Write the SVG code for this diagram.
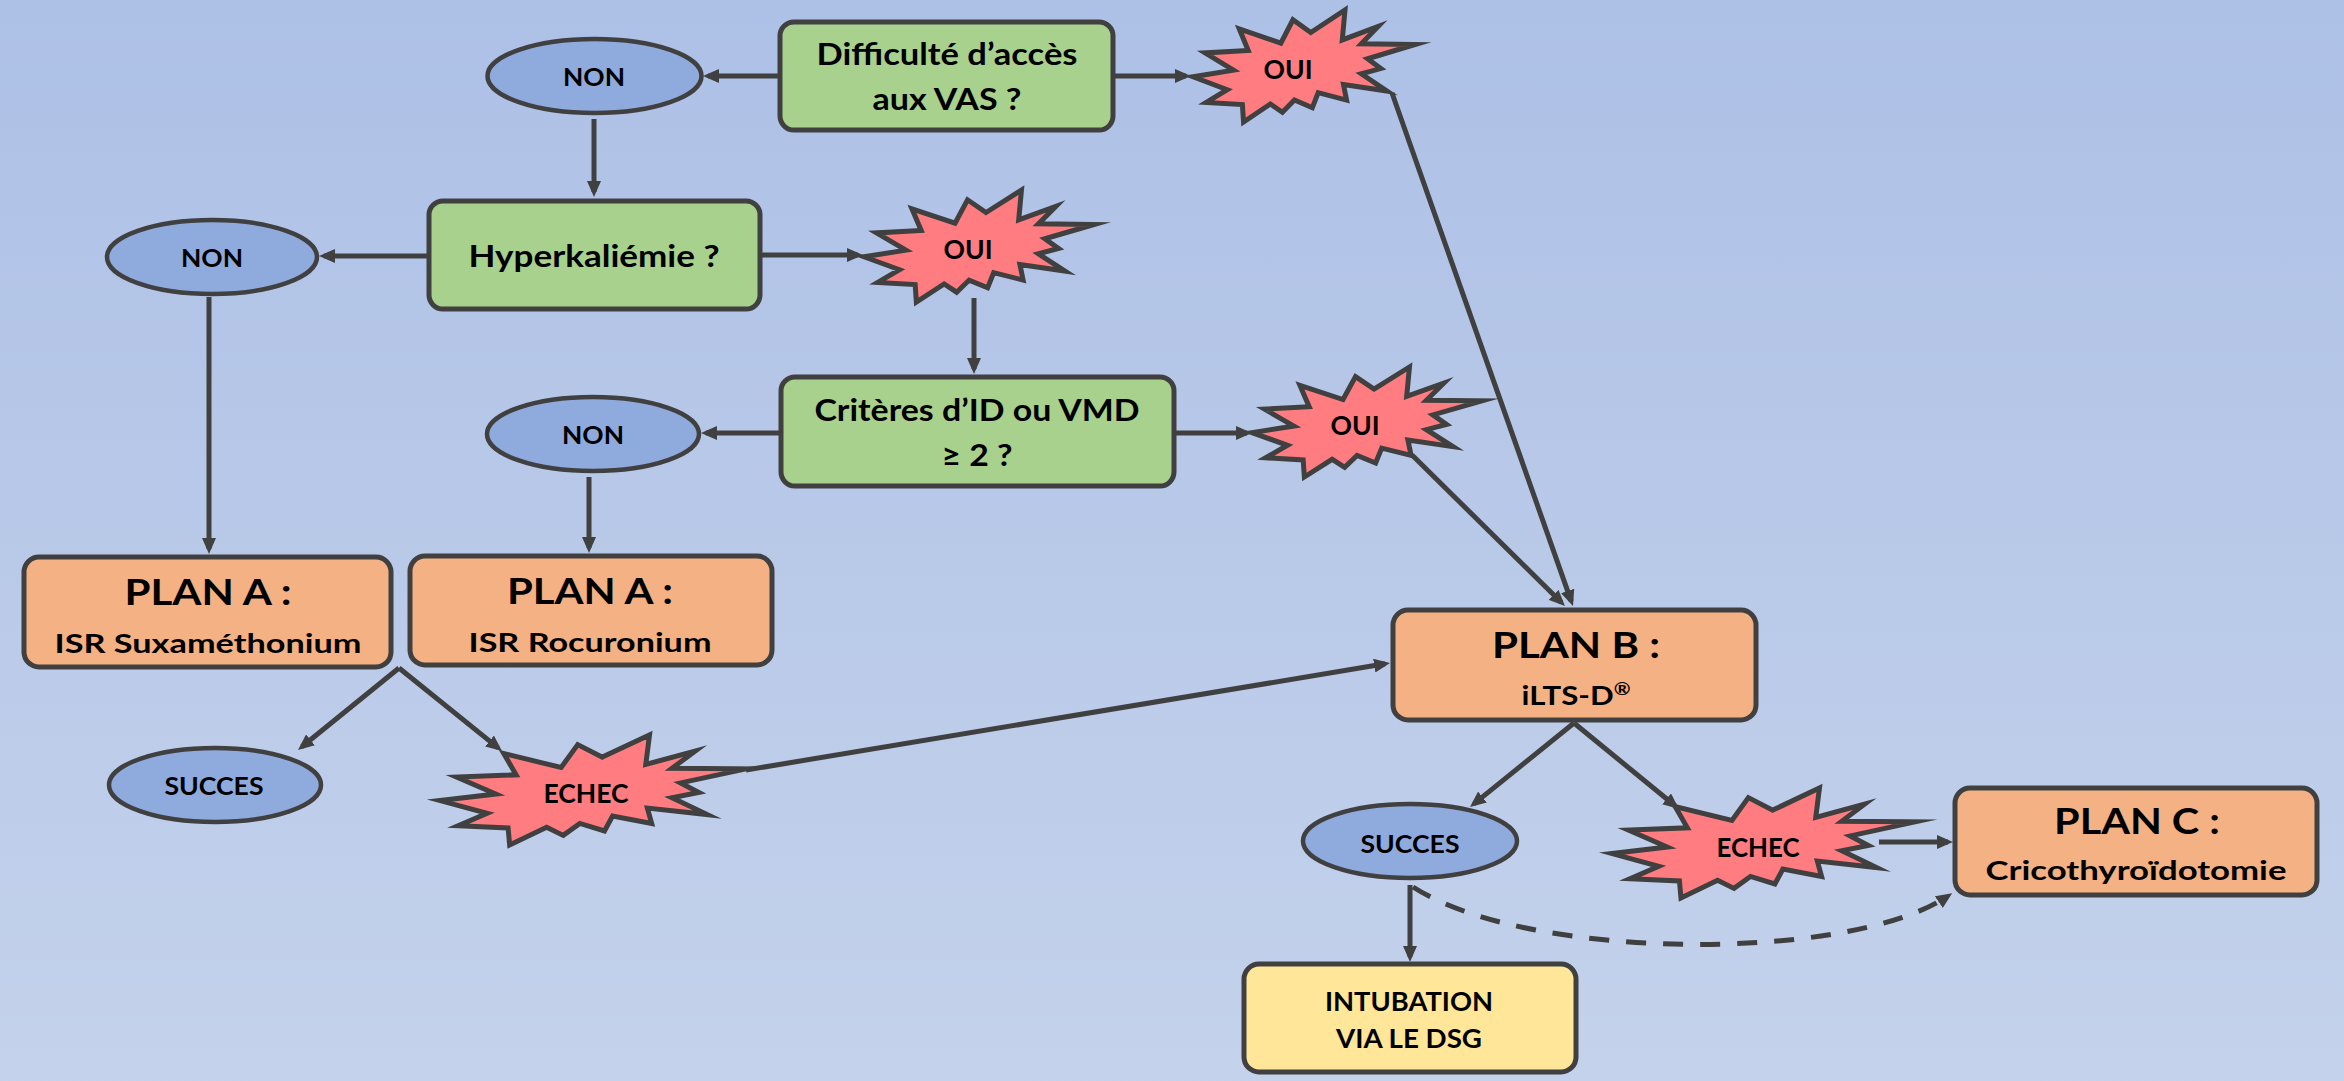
<svg xmlns="http://www.w3.org/2000/svg" xmlns:xlink="http://www.w3.org/1999/xlink" width="2344" height="1081" viewBox="0 0 2344 1081">
<style>
.box{stroke:#404040;stroke-width:5}
.q{fill:#a9d18e}
.p{fill:#f4b183}
.y{fill:#ffe699}
.ell{fill:#8faadc;stroke:#404040;stroke-width:4.5}
.star{fill:#ff7c80;stroke:#404040;stroke-width:5;stroke-linejoin:miter;stroke-miterlimit:10}
text{font-family:Lato,"Open Sans","Liberation Sans",sans-serif;font-weight:700;fill:#000;text-anchor:middle}
.t30{font-size:30px}
.t26{font-size:26px}
.t25{font-size:25px}
.t37{font-size:37px}
.ln{stroke:#404040;stroke-width:5;fill:none;marker-end:url(#arr)}
.dash{stroke-dasharray:20 17}
</style>
<defs>
<linearGradient id="bg" x1="0" y1="0" x2="0" y2="1">
<stop offset="0" stop-color="#adc0e6"/>
<stop offset="1" stop-color="#c4d2eb"/>
</linearGradient>
<marker id="arr" markerUnits="userSpaceOnUse" markerWidth="16" markerHeight="14" refX="11" refY="7" orient="auto">
<path d="M0,0 L16,7 L0,14 Z" fill="#404040"/>
</marker>
<path id="seal" class="star" vector-effect="non-scaling-stroke" d="M530.6,201 L684.7,0 L672.5,267.5 L833.7,146.9 L758.3,302.4 L1000,307.6 L786.3,435.3 L845.8,522.7 L758.3,569.9 L873.9,723.7 L677.8,664.4 L691.8,804.2 L563.9,737.7 L537.6,872.3 L457,804.2 L402.8,912.6 L348.5,839.1 L227.6,1000 L222.5,844.4 L59.5,825.2 L154.2,711.6 L0,596.2 L182.2,536.7 L54.3,382.9 L248.7,361.9 L208.4,167.8 L395.8,295.5 L450.1,87.4 Z"/>
</defs>
<rect width="2344" height="1081" fill="url(#bg)"/>

<g id="connectors">
<path class="ln" d="M780,76 L708,76"/>
<path class="ln" d="M1114,76 L1186,76"/>
<path class="ln" d="M594,119 L594,192"/>
<path class="ln" d="M429,256 L324,256"/>
<path class="ln" d="M762,255 L858,255"/>
<path class="ln" d="M974,298 L974,369"/>
<path class="ln" d="M780,433 L706,433"/>
<path class="ln" d="M1176,433 L1247,433"/>
<path class="ln" d="M209,297 L209,549"/>
<path class="ln" d="M589,477 L589,548"/>
<path class="ln" d="M1392,93 L1571.3,601.3"/>
<path class="ln" d="M1412,455 L1561.4,602.5"/>
<path class="ln" d="M399,668 L301.9,746.8"/>
<path class="ln" d="M399,668 L498.1,747.9"/>
<path class="ln" d="M746,770 L1385.1,663.8"/>
<path class="ln" d="M1574,723 L1473.9,803.9"/>
<path class="ln" d="M1574,723 L1675.1,805.8"/>
<path class="ln" d="M1879,842 L1948,842"/>
<path class="ln" d="M1410,885 L1410,957"/>
<path class="ln dash" d="M1413,887 C1530,962 1850,962 1948,896"/>
</g>

<g id="n-difficulte">
<rect class="box q" x="780" y="22" width="333" height="108" rx="14"/>
<text class="t30" x="947" y="65" textLength="261" lengthAdjust="spacingAndGlyphs">Difficulté d’accès</text>
<text class="t30" x="947" y="110" textLength="149" lengthAdjust="spacingAndGlyphs">aux VAS ?</text>
</g>

<g id="n-non1">
<ellipse class="ell" cx="594.5" cy="76" rx="107" ry="37"/>
<text class="t25" x="594" y="86" textLength="62" lengthAdjust="spacingAndGlyphs">NON</text>
</g>

<g id="n-oui1">
<use xlink:href="#seal" transform="translate(1193,10) scale(0.222,0.112)"/>
<text class="t26" x="1288" y="79" textLength="49" lengthAdjust="spacingAndGlyphs">OUI</text>
</g>

<g id="n-hyper">
<rect class="box q" x="429" y="201" width="331" height="108" rx="14"/>
<text class="t30" x="594" y="267" textLength="251" lengthAdjust="spacingAndGlyphs">Hyperkaliémie ?</text>
</g>

<g id="n-non2">
<ellipse class="ell" cx="212" cy="257" rx="105" ry="37"/>
<text class="t25" x="212" y="267" textLength="62" lengthAdjust="spacingAndGlyphs">NON</text>
</g>

<g id="n-oui2">
<use xlink:href="#seal" transform="translate(864,190) scale(0.230,0.112)"/>
<text class="t26" x="968" y="259" textLength="49" lengthAdjust="spacingAndGlyphs">OUI</text>
</g>

<g id="n-criteres">
<rect class="box q" x="781" y="377" width="393" height="109" rx="14"/>
<text class="t30" x="977" y="421" textLength="325" lengthAdjust="spacingAndGlyphs">Critères d’ID ou VMD</text>
<text class="t30" x="977" y="466" textLength="71" lengthAdjust="spacingAndGlyphs">≥ 2 ?</text>
</g>

<g id="n-non3">
<ellipse class="ell" cx="593" cy="434" rx="106" ry="37"/>
<text class="t25" x="593" y="444" textLength="62" lengthAdjust="spacingAndGlyphs">NON</text>
</g>

<g id="n-oui3">
<use xlink:href="#seal" transform="translate(1252,367) scale(0.230,0.110)"/>
<text class="t26" x="1355" y="435" textLength="49" lengthAdjust="spacingAndGlyphs">OUI</text>
</g>

<g id="n-planA-sux">
<rect class="box p" x="24" y="557" width="367" height="110" rx="15"/>
<text class="t37" x="208" y="605" textLength="167" lengthAdjust="spacingAndGlyphs">PLAN A :</text>
<text class="t26" x="208" y="653" textLength="307" lengthAdjust="spacingAndGlyphs">ISR Suxaméthonium</text>
</g>

<g id="n-planA-roc">
<rect class="box p" x="410" y="556" width="362" height="109" rx="15"/>
<text class="t37" x="590" y="604" textLength="166" lengthAdjust="spacingAndGlyphs">PLAN A :</text>
<text class="t26" x="590" y="652" textLength="243" lengthAdjust="spacingAndGlyphs">ISR Rocuronium</text>
</g>

<g id="n-succes1">
<ellipse class="ell" cx="215" cy="785" rx="106" ry="37"/>
<text class="t25" x="214" y="795" textLength="99" lengthAdjust="spacingAndGlyphs">SUCCES</text>
</g>

<g id="n-echec1">
<use xlink:href="#seal" transform="translate(440,735) scale(0.306,0.110)"/>
<text class="t26" x="586" y="803" textLength="85" lengthAdjust="spacingAndGlyphs">ECHEC</text>
</g>

<g id="n-planB">
<rect class="box p" x="1393" y="610" width="363" height="110" rx="15"/>
<text class="t37" x="1576" y="658" textLength="168" lengthAdjust="spacingAndGlyphs">PLAN B :</text>
<text class="t26" x="1576" y="705" textLength="109" lengthAdjust="spacingAndGlyphs">iLTS-D<tspan font-size="17" baseline-shift="super">®</tspan></text>
</g>

<g id="n-succes2">
<ellipse class="ell" cx="1410" cy="841" rx="107" ry="37"/>
<text class="t25" x="1410" y="853" textLength="99" lengthAdjust="spacingAndGlyphs">SUCCES</text>
</g>

<g id="n-echec2">
<use xlink:href="#seal" transform="translate(1612,788) scale(0.303,0.110)"/>
<text class="t26" x="1758" y="857" textLength="83" lengthAdjust="spacingAndGlyphs">ECHEC</text>
</g>

<g id="n-planC">
<rect class="box p" x="1955" y="788" width="362" height="107" rx="15"/>
<text class="t37" x="2137" y="834" textLength="166" lengthAdjust="spacingAndGlyphs">PLAN C :</text>
<text class="t26" x="2136" y="880" textLength="301" lengthAdjust="spacingAndGlyphs">Cricothyroïdotomie</text>
</g>

<g id="n-intubation">
<rect class="box y" x="1244" y="964" width="332" height="108" rx="15"/>
<text class="t26" x="1409" y="1011" textLength="168" lengthAdjust="spacingAndGlyphs">INTUBATION</text>
<text class="t26" x="1409" y="1048" textLength="146" lengthAdjust="spacingAndGlyphs">VIA LE DSG</text>
</g>
</svg>
